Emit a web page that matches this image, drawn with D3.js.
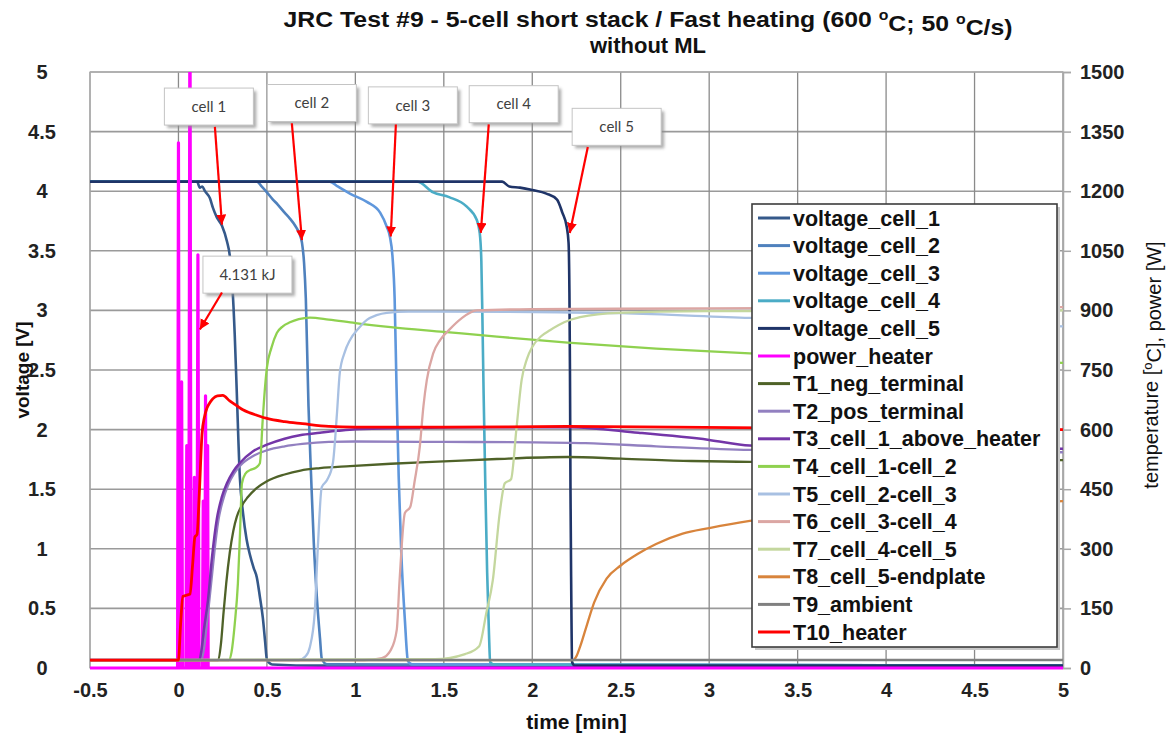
<!DOCTYPE html>
<html>
<head>
<meta charset="utf-8">
<script src="https://cdn.jsdelivr.net/npm/d3@7/dist/d3.min.js"></script>
<style>
  body { margin: 0; background: #fff; }
  text { font-family: "Liberation Sans", Arial, sans-serif; }
</style>
</head>
<body>
<svg id="chart" width="1166" height="740"></svg>
<script>
// ---- tick values -------------------------------------------------------
const timeTicks = [-0.5, 0, 0.5, 1, 1.5, 2, 2.5, 3, 3.5, 4, 4.5, 5];
const voltTicks = [0, 0.5, 1, 1.5, 2, 2.5, 3, 3.5, 4, 4.5, 5];
const tempTicks = [0, 150, 300, 450, 600, 750, 900, 1050, 1200, 1350, 1500];

// ---- cell voltages [time min, V] ----------------------------------------
const voltageCell1 = [[-0.5,4.08],[0.105,4.08],[0.121,4.03],[0.135,4.04],[0.15,4.0],[0.178,3.94],[0.195,3.86],[0.217,3.78],[0.246,3.71],[0.274,3.58],[0.291,3.45],[0.305,3.2],[0.318,2.8],[0.33,2.3],[0.347,1.6],[0.365,1.3],[0.385,1.08],[0.404,0.95],[0.425,0.84],[0.443,0.76],[0.46,0.6],[0.477,0.42],[0.49,0.22],[0.5,0.07],[0.53,0.03],[0.8,0.02],[5,0.02]];
const voltageCell2 = [[-0.5,4.08],[0.443,4.08],[0.47,4.04],[0.5,3.99],[0.534,3.93],[0.56,3.89],[0.6,3.82],[0.63,3.77],[0.66,3.71],[0.685,3.64],[0.698,3.57],[0.71,3.4],[0.72,3.1],[0.735,2.2],[0.75,1.6],[0.765,1.05],[0.782,0.6],[0.8,0.25],[0.81,0.08],[0.84,0.03],[5,0.02]];
const voltageCell3 = [[-0.5,4.08],[0.856,4.08],[0.9,4.04],[0.969,3.98],[1.065,3.91],[1.14,3.82],[1.178,3.7],[1.195,3.62],[1.21,3.45],[1.222,3.1],[1.232,2.4],[1.245,1.6],[1.26,0.95],[1.28,0.4],[1.297,0.06],[1.32,0.03],[5,0.02]];
const voltageCell4 = [[-0.5,4.08],[1.35,4.08],[1.44,3.99],[1.53,3.95],[1.63,3.87],[1.686,3.76],[1.703,3.65],[1.712,3.42],[1.718,2.95],[1.725,2.3],[1.735,1.5],[1.745,0.8],[1.755,0.3],[1.762,0.05],[1.78,0.03],[5,0.02]];
const voltageCell5 = [[-0.5,4.08],[1.83,4.08],[1.87,4.04],[1.93,4.03],[2.0,4.01],[2.08,3.98],[2.14,3.93],[2.17,3.82],[2.195,3.7],[2.205,3.57],[2.21,3.15],[2.213,2.5],[2.216,1.5],[2.22,0.7],[2.225,0.05],[2.24,0.02],[5,0.02]];

// ---- heater power [time min, W] -----------------------------------------
const powerHeater = [[-0.5,0],[-0.005,0],[0.0,1322],[0.005,0],[0.013,0],[0.018,720],[0.023,0],[0.042,0],[0.047,560],[0.052,0],[0.058,0],[0.065,1760],[0.071,0],[0.085,0],[0.09,480],[0.095,0],[0.104,0],[0.11,1040],[0.116,0],[0.135,0],[0.14,420],[0.145,0],[0.149,0],[0.153,685],[0.158,0],[0.162,0],[0.165,560],[0.168,0],[5,0]];

// ---- thermocouples [time min, degC] -------------------------------------
const t1NegTerminal = [[-0.5,20],[0.225,20],[0.24,60],[0.255,140],[0.27,213],[0.29,290],[0.31,345],[0.33,381],[0.36,410],[0.39,429],[0.44,452],[0.5,470],[0.6,487],[0.69,497],[0.8,503],[0.97,508],[1.2,514],[1.5,520],[1.8,526],[2.2,531],[2.5,527],[2.9,521],[3.23,519],[4.0,521],[5.0,523]];
const t2PosTerminal = [[-0.5,20],[0.128,20],[0.145,50],[0.16,110],[0.175,171],[0.19,235],[0.205,300],[0.225,370],[0.25,420],[0.28,460],[0.315,490],[0.35,510],[0.42,533],[0.5,548],[0.6,558],[0.7,564],[0.85,569],[1.0,570],[1.5,569],[2.0,568],[2.3,566],[2.7,558],[3.23,549],[4.0,546],[5.0,543]];
const t3AboveHeater = [[-0.5,20],[0.118,20],[0.13,45],[0.145,100],[0.167,171],[0.19,280],[0.217,375],[0.245,430],[0.274,465],[0.31,495],[0.347,516],[0.42,545],[0.5,562],[0.6,577],[0.686,586],[0.8,592],[0.9,597],[1.0,601],[1.3,604],[1.7,606],[2.21,606],[2.6,592],[3.0,574],[3.23,560],[4.0,556],[5.0,552]];
const t4Cell1Cell2 = [[-0.5,20],[0.285,20],[0.3,40],[0.318,110],[0.336,213],[0.348,340],[0.359,465],[0.38,490],[0.404,498],[0.44,505],[0.46,515],[0.477,630],[0.49,710],[0.5,756],[0.525,805],[0.556,843],[0.59,860],[0.63,870],[0.68,878],[0.743,882],[0.85,877],[1.0,868],[1.2,858],[1.5,846],[1.8,834],[2.2,819],[2.7,804],[3.23,792],[4.0,781],[5.0,768]];
const t5Cell2Cell3 = [[-0.5,20],[0.68,20],[0.72,30],[0.743,53],[0.77,138],[0.788,305],[0.81,455],[0.84,473],[0.873,516],[0.896,641],[0.912,743],[0.94,795],[0.969,825],[1.02,856],[1.065,876],[1.12,888],[1.178,894],[1.3,897],[1.44,897],[2.0,896],[2.5,893],[3.23,881],[4.0,872],[5.0,860]];
const t6Cell3Cell4 = [[-0.5,20],[1.05,20],[1.15,25],[1.2,45],[1.234,96],[1.25,221],[1.28,390],[1.31,405],[1.335,470],[1.364,556],[1.385,660],[1.404,725],[1.44,792],[1.48,826],[1.53,851],[1.6,880],[1.686,900],[2.0,903],[3.0,905],[4.0,907],[5.0,908]];
const t7Cell4Cell5 = [[-0.5,20],[1.45,22],[1.62,35],[1.70,55],[1.74,138],[1.777,221],[1.816,390],[1.845,465],[1.88,475],[1.91,600],[1.94,725],[1.97,778],[2.0,808],[2.05,835],[2.1,850],[2.18,870],[2.27,883],[2.49,894],[3.0,898],[5.0,900]];
const t8Cell5Endplate = [[-0.5,20],[2.23,20],[2.25,30],[2.27,53],[2.31,110],[2.35,165],[2.42,225],[2.5,258],[2.6,288],[2.7,312],[2.85,338],[3.0,352],[3.23,370],[3.6,388],[4.0,400],[4.5,411],[5.0,420]];
const t9Ambient = [[-0.5,20],[5.0,20]];
const t10Heater = [[-0.5,20],[0.0,20],[0.012,110],[0.025,180],[0.045,183],[0.065,186],[0.08,260],[0.093,330],[0.105,336],[0.118,440],[0.133,588],[0.147,632],[0.161,654],[0.178,668],[0.195,678],[0.22,685],[0.251,686],[0.29,672],[0.33,660],[0.364,650],[0.404,642],[0.443,636],[0.5,628],[0.6,620],[0.7,615],[0.85,608],[1.0,606],[1.5,606],[2.2,608],[2.8,606],[3.5,604],[4.2,602],[5.0,600]];

// ---- call-outs: label, box centre, arrow tail, arrow tip (time, V) ------
const calloutText = ["cell 1", "cell 2", "cell 3", "cell 4", "cell 5", "4.131 kJ"];
const calloutBox  = [[0.172,4.71],[0.754,4.74],[1.325,4.72],[1.895,4.73],[2.477,4.54],[0.39,3.30]];
const calloutTail = [[0.206,4.54],[0.641,4.57],[1.229,4.56],[1.754,4.56],[2.314,4.37],[0.246,3.15]];
const calloutTip  = [[0.246,3.72],[0.698,3.59],[1.20,3.62],[1.709,3.65],[2.212,3.65],[0.121,2.84]];

// ---- series table (legend order = drawing order) ------------------------
const series = [
  { name: "voltage_cell_1",         data: voltageCell1,   axis: "V", color: "#35598a", width: 2.6 },
  { name: "voltage_cell_2",         data: voltageCell2,   axis: "V", color: "#4f81bd", width: 2.6 },
  { name: "voltage_cell_3",         data: voltageCell3,   axis: "V", color: "#5f97dc", width: 2.6 },
  { name: "voltage_cell_4",         data: voltageCell4,   axis: "V", color: "#4bacc6", width: 2.6 },
  { name: "voltage_cell_5",         data: voltageCell5,   axis: "V", color: "#1f3468", width: 2.6 },
  { name: "power_heater",           data: powerHeater,    axis: "T", color: "#ff00ff", width: 3.2, linear: true },
  { name: "T1_neg_terminal",        data: t1NegTerminal,  axis: "T", color: "#4f6228", width: 2.3 },
  { name: "T2_pos_terminal",        data: t2PosTerminal,  axis: "T", color: "#9280c0", width: 2.3 },
  { name: "T3_cell_1_above_heater", data: t3AboveHeater,  axis: "T", color: "#7436a8", width: 2.5 },
  { name: "T4_cell_1-cell_2",       data: t4Cell1Cell2,   axis: "T", color: "#8fd14f", width: 2.3 },
  { name: "T5_cell_2-cell_3",       data: t5Cell2Cell3,   axis: "T", color: "#a8c0e2", width: 2.3 },
  { name: "T6_cell_3-cell_4",       data: t6Cell3Cell4,   axis: "T", color: "#dba6a3", width: 2.3 },
  { name: "T7_cell_4-cell_5",       data: t7Cell4Cell5,   axis: "T", color: "#c4d79e", width: 2.3 },
  { name: "T8_cell_5-endplate",     data: t8Cell5Endplate,axis: "T", color: "#d8843c", width: 2.3 },
  { name: "T9_ambient",             data: t9Ambient,      axis: "T", color: "#808080", width: 2.6 },
  { name: "T10_heater",             data: t10Heater,      axis: "T", color: "#ff0000", width: 2.8 }
];

// ---- layout & scales ----------------------------------------------------
const plot = { left: 90, right: 1063, top: 72, bottom: 668 };
const x  = d3.scaleLinear().domain([-0.5, 5]).range([plot.left, plot.right]);
const yV = d3.scaleLinear().domain([0, 5]).range([plot.bottom, plot.top]);
const yT = d3.scaleLinear().domain([0, 1500]).range([plot.bottom, plot.top]);

const svg = d3.select("#chart");
const defs = svg.append("defs");
defs.append("clipPath").attr("id", "plotClip")
  .append("rect")
  .attr("x", plot.left).attr("y", plot.top)
  .attr("width", plot.right - plot.left).attr("height", plot.bottom - plot.top + 4);

defs.append("marker")
  .attr("id", "arrowHead").attr("markerUnits", "userSpaceOnUse")
  .attr("markerWidth", 12).attr("markerHeight", 12)
  .attr("refX", 10).attr("refY", 5).attr("orient", "auto")
  .append("path").attr("d", "M0,0 L10,5 L0,10 Z").attr("fill", "#ff0000");

const shadow = defs.append("filter").attr("id", "boxShadow")
  .attr("x", "-20%").attr("y", "-20%").attr("width", "150%").attr("height", "160%");
shadow.append("feGaussianBlur").attr("stdDeviation", 1.5);

// ---- grid ---------------------------------------------------------------
const grid = svg.append("g");
grid.selectAll("line.h").data(voltTicks).join("line")
  .attr("x1", plot.left).attr("x2", plot.right)
  .attr("y1", d => yV(d)).attr("y2", d => yV(d))
  .attr("stroke", "#9a9a9a").attr("stroke-width", 1.6);
grid.selectAll("line.v").data(timeTicks).join("line")
  .attr("y1", plot.top).attr("y2", plot.bottom)
  .attr("x1", d => x(d)).attr("x2", d => x(d))
  .attr("stroke", "#8a8a8a").attr("stroke-width", 1.3);
grid.append("rect")
  .attr("x", plot.left).attr("y", plot.top)
  .attr("width", plot.right - plot.left).attr("height", plot.bottom - plot.top)
  .attr("fill", "none").attr("stroke", "#b0b0b0").attr("stroke-width", 1.2);

// ---- axes ---------------------------------------------------------------
const fmt = d => String(d);

const xAxis = svg.append("g").attr("transform", `translate(0,${plot.bottom})`)
  .call(d3.axisBottom(x).tickValues(timeTicks).tickFormat(fmt).tickSize(0).tickPadding(15));
xAxis.select(".domain").remove();
xAxis.selectAll("text").attr("font-size", 20).attr("font-weight", "bold").attr("fill", "#222")
  .style("font-family", "'Liberation Sans', Arial, sans-serif");

const yAxisL = svg.append("g").attr("transform", `translate(${plot.left},0)`)
  .call(d3.axisLeft(yV).tickValues(voltTicks).tickFormat(fmt).tickSize(0));
yAxisL.select(".domain").remove();
yAxisL.selectAll("text").attr("x", -48).attr("text-anchor", "middle")
  .attr("font-size", 20).attr("font-weight", "bold").attr("fill", "#222")
  .style("font-family", "'Liberation Sans', Arial, sans-serif");

const yAxisR = svg.append("g").attr("transform", `translate(${plot.right},0)`)
  .call(d3.axisRight(yT).tickValues(tempTicks).tickFormat(fmt).tickSize(8).tickPadding(9));
yAxisR.select(".domain").attr("stroke", "#a8a8a8").attr("stroke-width", 1.5);
yAxisR.selectAll(".tick line").attr("stroke", "#a8a8a8").attr("stroke-width", 1.5);
yAxisR.selectAll("text").attr("font-size", 20).attr("font-weight", "bold").attr("fill", "#222")
  .style("font-family", "'Liberation Sans', Arial, sans-serif");

// axis titles
svg.append("text")
  .attr("transform", `translate(22,${(plot.top + plot.bottom) / 2}) rotate(-90)`)
  .attr("text-anchor", "middle").attr("dy", "0.35em")
  .attr("font-size", 19).attr("font-weight", "bold").attr("fill", "#111")
  .text("voltage [V]");

const rTitle = svg.append("text")
  .attr("transform", `translate(1151,${(plot.top + plot.bottom) / 2 - 5}) rotate(-90)`)
  .attr("text-anchor", "middle").attr("dy", "0.35em")
  .attr("font-size", 20).attr("fill", "#111");
rTitle.append("tspan").text("temperature [");
rTitle.append("tspan").attr("font-size", 13).attr("dy", "-0.45em").text("o");
rTitle.append("tspan").attr("dy", "0.45em").text("C], power [W]");

svg.append("text")
  .attr("x", (plot.left + plot.right) / 2).attr("y", 729)
  .attr("text-anchor", "middle")
  .attr("font-size", 21).attr("font-weight", "bold").attr("fill", "#111")
  .text("time [min]");

// chart title
const title = svg.append("text")
  .attr("x", 648).attr("y", 27).attr("text-anchor", "middle")
  .attr("font-size", 22).attr("font-weight", "bold").attr("fill", "#111")
  .attr("textLength", 729).attr("lengthAdjust", "spacingAndGlyphs");
title.append("tspan").text("JRC Test #9 - 5-cell short stack / Fast heating (600 ");
title.append("tspan").attr("font-size", 14).attr("dy", "-0.5em").text("o");
title.append("tspan").attr("dy", "0.5em").text("C; 50 ");
title.append("tspan").attr("font-size", 14).attr("dy", "-0.5em").text("o");
title.append("tspan").attr("dy", "0.5em").text("C/s)");
svg.append("text")
  .attr("x", 648).attr("y", 53).attr("text-anchor", "middle")
  .attr("font-size", 22).attr("font-weight", "bold").attr("fill", "#111")
  .text("without ML");

// ---- series lines -------------------------------------------------------
const lines = svg.append("g").attr("clip-path", "url(#plotClip)");
series.forEach(s => {
  const yS = s.axis === "V" ? yV : yT;
  const gen = d3.line()
    .x(d => x(d[0])).y(d => yS(d[1]))
    .curve(s.linear ? d3.curveLinear : d3.curveMonotoneX);
  lines.append("path")
    .datum(s.data)
    .attr("d", gen)
    .attr("fill", "none")
    .attr("stroke", s.color)
    .attr("stroke-width", s.width)
    .attr("stroke-linejoin", "round");
});

// ---- call-outs ----------------------------------------------------------
const callouts = calloutText.map((t, i) => ({
  text: t, box: calloutBox[i], tail: calloutTail[i], tip: calloutTip[i]
}));
const cg = svg.append("g");
const boxW = 89, boxH = 37;
callouts.forEach(c => {
  const bx = x(c.box[0]), by = yV(c.box[1]);
  cg.append("rect")
    .attr("x", bx - boxW / 2 + 3).attr("y", by - boxH / 2 + 3)
    .attr("width", boxW).attr("height", boxH)
    .attr("fill", "#8c8c8c").attr("opacity", 0.7).attr("filter", "url(#boxShadow)");
  cg.append("rect")
    .attr("x", bx - boxW / 2).attr("y", by - boxH / 2)
    .attr("width", boxW).attr("height", boxH)
    .attr("fill", "#fff").attr("stroke", "#c4c4c4").attr("stroke-width", 1);
  cg.append("text")
    .attr("x", bx).attr("y", by).attr("dy", "0.35em")
    .attr("text-anchor", "middle")
    .attr("font-size", 15).attr("fill", "#404040")
    .style("font-family", "Lato, 'Open Sans', sans-serif")
    .text(c.text);
  cg.append("line")
    .attr("x1", x(c.tail[0])).attr("y1", yV(c.tail[1]))
    .attr("x2", x(c.tip[0])).attr("y2", yV(c.tip[1]))
    .attr("stroke", "#ff0000").attr("stroke-width", 2.2)
    .attr("marker-end", "url(#arrowHead)");
});

// ---- legend -------------------------------------------------------------
const lg = svg.append("g");
const legX = 752, legY = 204, legW = 305, legH = 443, rowH = 27.6;
lg.append("rect")
  .attr("x", legX + 3).attr("y", legY + 3).attr("width", legW).attr("height", legH)
  .attr("fill", "#c8c8c8");
lg.append("rect")
  .attr("x", legX).attr("y", legY).attr("width", legW).attr("height", legH)
  .attr("fill", "#fff").attr("stroke", "#3c3c3c").attr("stroke-width", 1.6);
const items = lg.selectAll("g.item").data(series).join("g")
  .attr("transform", (d, i) => `translate(${legX},${legY + 14 + i * rowH})`);
items.append("line")
  .attr("x1", 6).attr("x2", 38).attr("y1", 0).attr("y2", 0)
  .attr("stroke", d => d.color).attr("stroke-width", 3);
items.append("text")
  .attr("x", 41).attr("y", 0).attr("dy", "0.35em")
  .attr("font-size", 21.5).attr("font-weight", "bold").attr("fill", "#111")
  .text(d => d.name);
</script>
</body>
</html>
